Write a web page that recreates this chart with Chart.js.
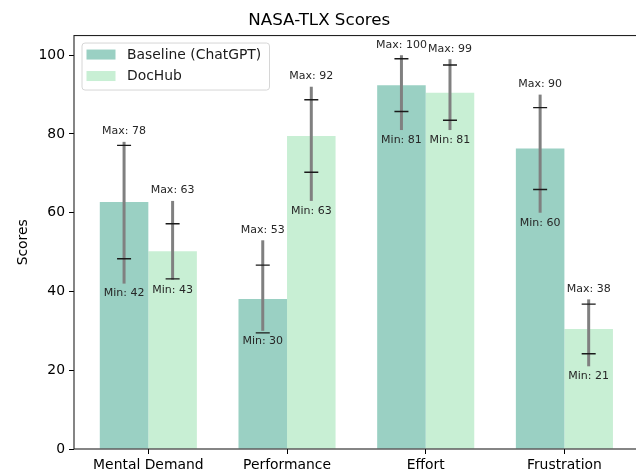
<!DOCTYPE html>
<html>
<head>
<meta charset="utf-8">
<script src="https://cdn.jsdelivr.net/npm/chart.js@4"></script>
<style>
  html, body { margin: 0; padding: 0; background: #fff; overflow: hidden; }
  #wrap { width: 636px; height: 474px; overflow: hidden; position: relative; }
  canvas { display: block; }
</style>
</head>
<body>
<div id="wrap"><canvas id="c" width="645" height="474"></canvas></div>
<script>
const categories = ['Mental Demand', 'Performance', 'Effort', 'Frustration'];
const seriesNames = ['Baseline (ChatGPT)', 'DocHub'];
const baselineMean = [62.7, 38.1, 92.4, 76.3];
const baselineStd  = [14.4, 8.6, 6.7, 10.4];
const baselineMin  = [42, 30, 81, 60];
const baselineMax  = [78, 53, 100, 90];
const dochubMean = [50.2, 79.5, 90.5, 30.5];
const dochubStd  = [7.0, 9.2, 7.0, 6.3];
const dochubMin  = [43, 63, 81, 21];
const dochubMax  = [63, 92, 99, 38];
const yTicks = [0, 20, 40, 60, 80, 100];

const colors = ['#9AD0C3', '#C8EFD4'];
const stats = [
  { mean: baselineMean, std: baselineStd, min: baselineMin, max: baselineMax },
  { mean: dochubMean, std: dochubStd, min: dochubMin, max: dochubMax }
];

const FONT = 'DejaVu Sans';

const overlayPlugin = {
  id: 'overlay',
  afterDatasetsDraw(chart) {
    const ctx = chart.ctx;
    const ys = chart.scales.y;
    ctx.save();
    stats.forEach((s, di) => {
      const meta = chart.getDatasetMeta(di);
      meta.data.forEach((bar, j) => {
        const x = bar.x;
        const yMin = ys.getPixelForValue(s.min[j]);
        const yMax = ys.getPixelForValue(s.max[j]);
        ctx.strokeStyle = '#808080';
        ctx.lineWidth = 3;
        ctx.beginPath();
        ctx.moveTo(x, yMin);
        ctx.lineTo(x, yMax);
        ctx.stroke();
        const yLo = ys.getPixelForValue(s.mean[j] - s.std[j]);
        const yHi = ys.getPixelForValue(s.mean[j] + s.std[j]);
        ctx.strokeStyle = '#1a1a1a';
        ctx.lineWidth = 1.4;
        ctx.beginPath();
        ctx.moveTo(x - 7, yLo); ctx.lineTo(x + 7, yLo);
        ctx.moveTo(x - 7, yHi); ctx.lineTo(x + 7, yHi);
        ctx.stroke();
        ctx.fillStyle = '#262626';
        ctx.font = '11px "' + FONT + '"';
        ctx.textAlign = 'center';
        ctx.textBaseline = 'middle';
        ctx.fillText('Max: ' + s.max[j], x, yMax - 10.5);
        ctx.fillText('Min: ' + s.min[j], x, yMin + 10);
      });
    });
    ctx.restore();
  },
  afterDraw(chart) {
    const ctx = chart.ctx;
    const a = chart.chartArea;
    ctx.save();
    ctx.strokeStyle = '#222';
    ctx.lineWidth = 1.1;
    ctx.strokeRect(a.left, a.top, a.right - a.left, a.bottom - a.top);
    const lx = a.left + 8, ly = a.top + 7.5, lw = 187.5, lh = 47;
    ctx.fillStyle = 'rgba(255,255,255,0.8)';
    ctx.strokeStyle = '#d6d6d6';
    ctx.lineWidth = 1;
    ctx.beginPath();
    if (ctx.roundRect) ctx.roundRect(lx, ly, lw, lh, 3); else ctx.rect(lx, ly, lw, lh);
    ctx.fill();
    ctx.stroke();
    chart.data.datasets.forEach((ds, i) => {
      const ry = ly + 6.5 + i * 21.5;
      ctx.fillStyle = ds.backgroundColor;
      ctx.fillRect(lx + 4.5, ry, 29, 10);
      ctx.fillStyle = '#1a1a1a';
      ctx.font = '13.9px "' + FONT + '"';
      ctx.textAlign = 'left';
      ctx.textBaseline = 'middle';
      ctx.fillText(ds.label, lx + 45, ry + 5.5);
    });
    ctx.restore();
  }
};

new Chart(document.getElementById('c'), {
  type: 'bar',
  data: {
    datasets: stats.map((s, i) => ({
      label: seriesNames[i],
      data: s.mean.map((v, j) => ({ x: j, y: v })),
      backgroundColor: colors[i],
      borderWidth: 0,
      categoryPercentage: 0.7,
      barPercentage: 1.0
    }))
  },
  options: {
    responsive: false,
    animation: false,
    devicePixelRatio: 1,
    layout: { padding: { left: 0, right: 6.4, top: 0, bottom: 0 } },
    plugins: {
      legend: { display: false },
      tooltip: { enabled: false },
      title: {
        display: true,
        text: 'NASA-TLX Scores',
        color: '#000',
        font: { family: FONT, size: 16.7, weight: 'normal' },
        padding: { top: 11, bottom: 4.5 }
      }
    },
    scales: {
      x: {
        type: 'linear',
        min: -0.536,
        max: 3.535,
        offset: false,
        afterBuildTicks: (scale) => { scale.ticks = categories.map((c, i) => ({ value: i })); },
        afterFit: (scale) => { scale.height = 25; },
        ticks: {
          autoSkip: false,
          maxRotation: 0,
          color: '#000',
          padding: 3,
          font: { family: FONT, size: 13.9 },
          callback: (v) => categories[v]
        },
        grid: { display: true, offset: false, drawOnChartArea: false, drawTicks: true, tickLength: 5, tickColor: '#000' },
        border: { display: false }
      },
      y: {
        min: 0,
        max: 105,
        afterBuildTicks: (scale) => { scale.ticks = yTicks.map(v => ({ value: v })); },
        afterFit: (scale) => { scale.width = 74; },
        ticks: {
          color: '#000',
          padding: 4,
          font: { family: FONT, size: 13.9 }
        },
        title: {
          display: true,
          text: 'Scores',
          color: '#000',
          font: { family: FONT, size: 13.9 },
          padding: { top: 15, bottom: 0 }
        },
        grid: { display: true, offset: false, drawOnChartArea: false, drawTicks: true, tickLength: 5, tickColor: '#000' },
        border: { display: false }
      }
    }
  },
  plugins: [overlayPlugin]
});
</script>
</body>
</html>
